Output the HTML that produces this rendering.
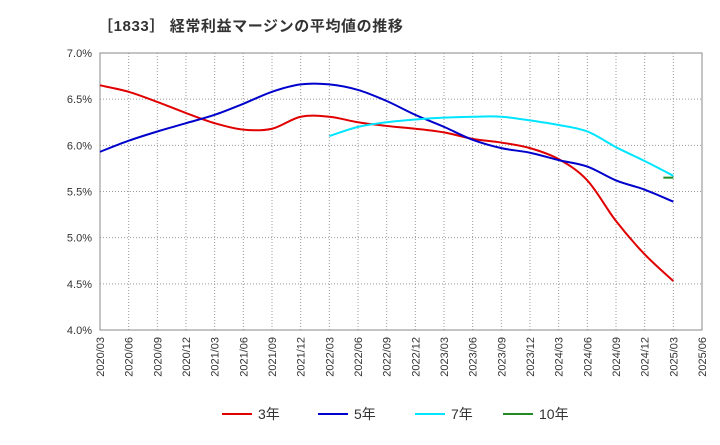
<!DOCTYPE html>
<html><head><meta charset="utf-8"><style>
body{margin:0;background:#fff;}
svg{font-family:"Liberation Sans","Noto Sans CJK JP",sans-serif;}
</style></head><body>
<svg id="c" width="720" height="440" xmlns="http://www.w3.org/2000/svg">
<text x="98" y="31" font-size="15" font-weight="bold" fill="#333" letter-spacing="0.6">［1833］ 経常利益マージンの平均値の推移</text>
<g id="grid"></g><g id="axes"></g><g id="lines"></g>
<g id="legend"></g>
</svg>
<script>
const xLabels=["2020/03","2020/06","2020/09","2020/12","2021/03","2021/06","2021/09","2021/12","2022/03","2022/06","2022/09","2022/12","2023/03","2023/06","2023/09","2023/12","2024/03","2024/06","2024/09","2024/12","2025/03","2025/06"];
const yTicks=[4.0,4.5,5.0,5.5,6.0,6.5,7.0];
const s3=[6.65,6.58,6.47,6.35,6.24,6.17,6.18,6.31,6.31,6.25,6.21,6.18,6.14,6.07,6.03,5.97,5.85,5.62,5.18,4.82,4.53];
const s5=[5.93,6.05,6.15,6.24,6.33,6.45,6.58,6.66,6.66,6.60,6.48,6.33,6.20,6.06,5.97,5.92,5.84,5.77,5.62,5.52,5.39];
const s7=[null,null,null,null,null,null,null,null,6.10,6.20,6.25,6.28,6.30,6.31,6.31,6.27,6.22,6.15,5.98,5.83,5.67];
const s10=[null,null,null,null,null,null,null,null,null,null,null,null,null,null,null,null,null,null,null,null,5.65];
const seriesNames=["3年","5年","7年","10年"];
const colors=["#e00000","#0000cc","#00e5ff","#228b22"];
const L=100,R=702,T=53,B=330;
const X=i=>L+(R-L)*i/(xLabels.length-1);
const Y=v=>B-(B-T)*(v-4)/3;
const NS="http://www.w3.org/2000/svg";
function mk(tag,attrs,parent){const e=document.createElementNS(NS,tag);for(const k in attrs)e.setAttribute(k,attrs[k]);parent.appendChild(e);return e;}
const grid=document.getElementById('grid'),axes=document.getElementById('axes'),lines=document.getElementById('lines'),leg=document.getElementById('legend');
yTicks.forEach(v=>{
 const l=mk('line',{x1:L,x2:R,y1:Y(v),y2:Y(v),stroke:'#999','stroke-dasharray':'1,2'},grid);
 
 
 const t=mk('text',{x:L-8,y:Y(v)+4,'text-anchor':'end','font-size':'11',fill:'#333'},axes);
 t.textContent=v.toFixed(1)+'%';
 
 
});
xLabels.forEach((s,i)=>{
 const l=mk('line',{x1:X(i),x2:X(i),y1:T,y2:B,stroke:'#999','stroke-dasharray':'1,2'},grid);
 
 
 const t=mk('text',{x:0,y:0,'text-anchor':'end','font-size':'11',fill:'#333',transform:`translate(${X(i)+4},${B+7}) rotate(-90)`},axes);
 t.textContent=s;
 
 
});
const fr=mk('rect',{x:L,y:T,width:R-L,height:B-T,fill:'none',stroke:'#888'},axes);


function path(pts){
 if(pts.length===1)return `M${pts[0][0]-10},${pts[0][1]}L${pts[0][0]},${pts[0][1]}`;
 let d=`M${pts[0][0]},${pts[0][1]}`;
 for(let i=0;i<pts.length-1;i++){
  const p0=pts[i-1]||pts[i],p1=pts[i],p2=pts[i+1],p3=pts[i+2]||p2;
  d+=`C${p1[0]+(p2[0]-p0[0])/6},${p1[1]+(p2[1]-p0[1])/6} ${p2[0]-(p3[0]-p1[0])/6},${p2[1]-(p3[1]-p1[1])/6} ${p2[0]},${p2[1]}`;
 }
 return d;
}
[s3,s5,s7,s10].forEach((s,k)=>{
 const pts=[];s.forEach((v,i)=>{if(v!=null)pts.push([X(i),Y(v)]);});
 const p=mk('path',{d:path(pts),fill:'none',stroke:colors[k],'stroke-width':'2'},lines);
 
 
});
const lx=[222,318,415,503];
seriesNames.forEach((n,k)=>{
 const l=mk('line',{x1:lx[k],x2:lx[k]+30,y1:414,y2:414,stroke:colors[k],'stroke-width':'2'},leg);
 
 
 const t=mk('text',{x:lx[k]+36,y:419,'font-size':'14',fill:'#333'},leg);
 t.textContent=n;
 
 
});
</script>
</body></html>
